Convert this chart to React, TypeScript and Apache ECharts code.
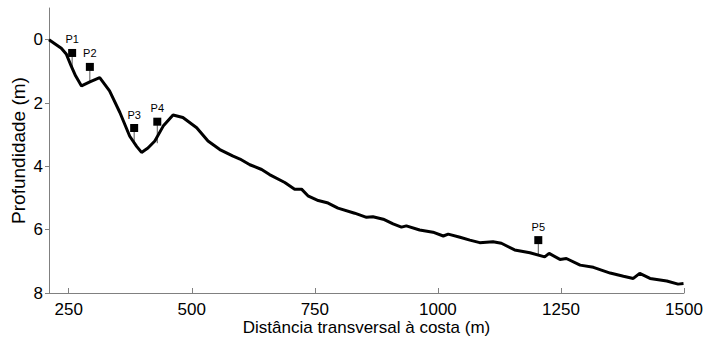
import React, { useEffect, useRef } from "react";
import * as echarts from "echarts";

const profileX = [210, 235, 245, 255, 264, 276, 293, 313, 333, 354, 374, 388, 398, 411, 425, 442, 462, 482, 510, 533, 557, 584, 598, 618, 642, 658, 689, 709, 723, 736, 757, 777, 797, 831, 855, 868, 889, 909, 926, 936, 963, 990, 1011, 1021, 1045, 1065, 1085, 1112, 1129, 1156, 1187, 1217, 1226, 1248, 1261, 1289, 1316, 1350, 1377, 1397, 1410, 1431, 1465, 1488, 1499];
const profileDepth = [0, 0.27, 0.45, 0.83, 1.14, 1.46, 1.33, 1.2, 1.62, 2.3, 3.05, 3.37, 3.56, 3.42, 3.2, 2.73, 2.38, 2.46, 2.78, 3.2, 3.47, 3.68, 3.77, 3.95, 4.1, 4.26, 4.51, 4.72, 4.72, 4.93, 5.08, 5.16, 5.32, 5.48, 5.61, 5.59, 5.67, 5.82, 5.92, 5.88, 6.01, 6.08, 6.2, 6.14, 6.24, 6.33, 6.41, 6.38, 6.43, 6.64, 6.73, 6.86, 6.75, 6.94, 6.91, 7.12, 7.19, 7.37, 7.47, 7.54, 7.38, 7.54, 7.62, 7.72, 7.7];

const stationNames = ["P1", "P2", "P3", "P4", "P5"];
const stationX = [257, 293, 383, 430, 1204];
const stationTop = [0.42, 0.86, 2.79, 2.59, 6.33];
const stationBed = [0.85, 1.33, 3.22, 3.27, 6.8];

const xTicks = [250, 500, 750, 1000, 1250, 1500];
const yTicks = [0, 2, 4, 6, 8];

const FONT = "Liberation Sans, Arial, sans-serif";

export default function App() {
  const ref = useRef<HTMLDivElement>(null);
  useEffect(() => {
    if (!ref.current) return;
    const chart = echarts.init(ref.current, undefined, { renderer: "svg" });
    chart.setOption({
      animation: false,
      grid: { left: 49, right: 19, top: 8, bottom: 44, containLabel: false, outerBoundsMode: "none" },
      xAxis: {
        type: "value",
        min: 210,
        max: 1500,
        axisLine: { onZero: false, lineStyle: { color: "#808080", width: 1 } },
        axisTick: { inside: true, length: 5, lineStyle: { color: "#808080" }, customValues: xTicks },
        axisLabel: {
          color: "#000",
          fontSize: 17,
          fontFamily: FONT,
          margin: 8,
          customValues: xTicks,
          formatter: (v: number) => String(v),
        },
        splitLine: { show: false },
        name: "Distância transversal à costa (m)",
        nameLocation: "middle",
        nameGap: 26,
        nameMoveOverlap: false,
        nameTextStyle: { color: "#000", fontSize: 17, fontFamily: FONT },
      },
      yAxis: {
        type: "value",
        inverse: true,
        min: -1,
        max: 8,
        axisLine: { show: true, onZero: false, lineStyle: { color: "#808080", width: 1 } },
        axisTick: { show: true, inside: false, length: 4, lineStyle: { color: "#808080" }, customValues: yTicks },
        axisLabel: {
          color: "#000",
          fontSize: 17,
          fontFamily: FONT,
          margin: 6,
          customValues: yTicks,
          formatter: (v: number) => String(v),
        },
        splitLine: { show: false },
        name: "Profundidade (m)",
        nameLocation: "middle",
        nameGap: 21,
        nameMoveOverlap: false,
        nameTextStyle: { color: "#000", fontSize: 19, fontFamily: FONT },
      },
      series: [
        {
          type: "line",
          data: profileX.map((x, i) => [x, profileDepth[i]]),
          showSymbol: false,
          symbol: "none",
          lineStyle: { color: "#000", width: 3 },
          z: 3,
        },
        {
          type: "custom",
          data: stationX.map((x, i) => [x, stationTop[i], stationBed[i]]),
          renderItem: (params: any, api: any) => {
            const a = api.coord([api.value(0), api.value(1)]);
            const b = api.coord([api.value(0), api.value(2)]);
            return {
              type: "line",
              shape: { x1: a[0], y1: a[1], x2: b[0], y2: b[1] },
              style: { stroke: "#555", lineWidth: 1 },
            };
          },
          z: 2,
        },
        {
          type: "scatter",
          data: stationX.map((x, i) => ({ value: [x, stationTop[i]], name: stationNames[i] })),
          symbol: "rect",
          symbolSize: 8,
          itemStyle: { color: "#000", opacity: 1 },
          label: {
            show: true,
            position: "top",
            distance: 4,
            formatter: (p: any) => p.name,
            color: "#000",
            fontSize: 11,
            fontFamily: FONT,
          },
          z: 4,
        },
      ],
    });
    return () => chart.dispose();
  }, []);
  return <div ref={ref} style={{ width: 703, height: 337, position: "absolute", left: 0, top: 0 }} />;
}
